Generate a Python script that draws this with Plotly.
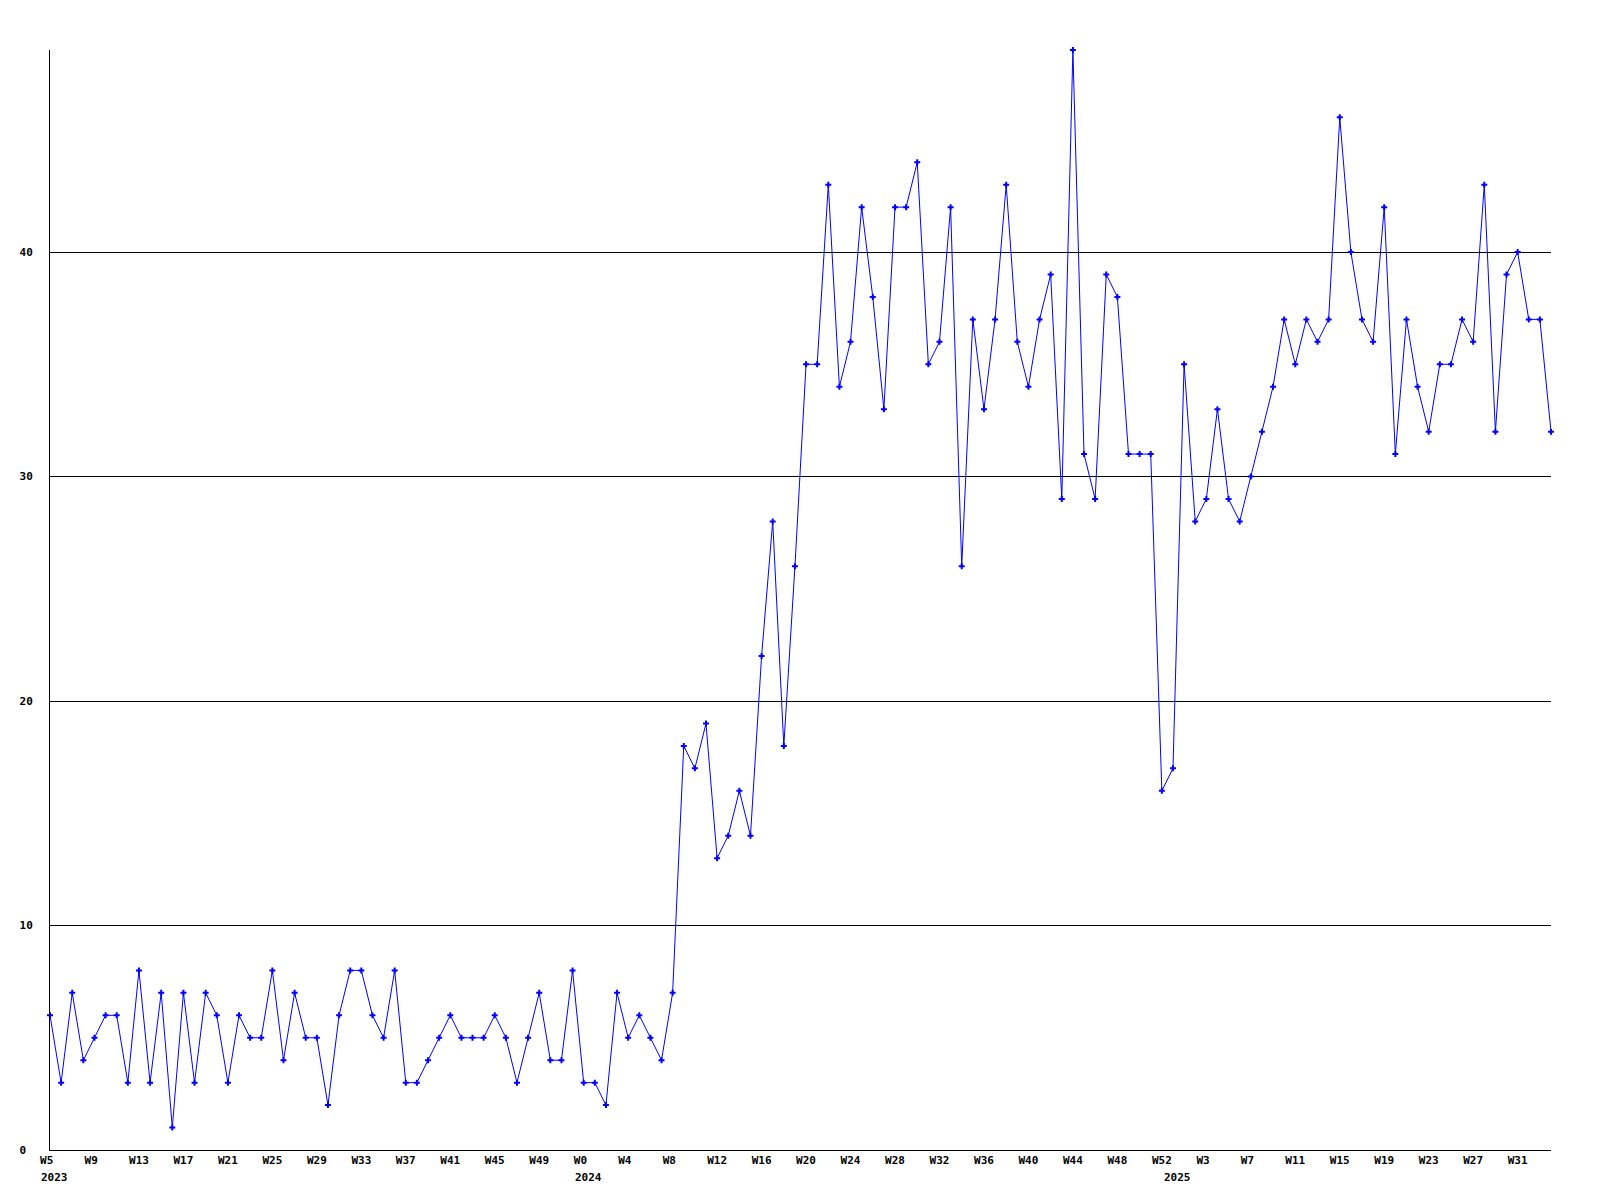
import plotly.graph_objects as go

# ---- data -------------------------------------------------------------
weeks_2023 = list(range(5, 53))    # W5 .. W52
weeks_2024 = list(range(0, 53))    # W0 .. W52
weeks_2025 = list(range(0, 35))    # W0 .. W34

values_2023 = [6, 3, 7, 4, 5, 6, 6, 3, 8, 3, 7, 1, 7, 3, 7, 6, 3, 6, 5, 5,
               8, 4, 7, 5, 5, 2, 6, 8, 8, 6, 5, 8, 3, 3, 4, 5, 6, 5, 5, 5,
               6, 5, 3, 5, 7, 4, 4, 8]
values_2024 = [3, 3, 2, 7, 5, 6, 5, 4, 7, 18, 17, 19, 13, 14, 16, 14, 22, 28, 18, 26,
               35, 35, 43, 34, 36, 42, 38, 33, 42, 42, 44, 35, 36, 42, 26, 37, 33, 37, 43, 36,
               34, 37, 39, 29, 49, 31, 29, 39, 38, 31, 31, 31, 16]
values_2025 = [17, 35, 28, 29, 33, 29, 28, 30, 32, 34, 37, 35, 37, 36, 37, 46, 40, 37, 36, 42,
               31, 37, 34, 32, 35, 35, 37, 36, 43, 32, 39, 40, 37, 37, 32]

years = ["2023", "2024", "2025"]
y_tick_values = [0, 10, 20, 30, 40]
y_tick_labels = ["0", "10", "20", "30", "40"]

# ---- build series ----------------------------------------------------
week_labels = ([f"W{w}" for w in weeks_2023] + [f"W{w}" for w in weeks_2024]
               + [f"W{w}" for w in weeks_2025])
values = values_2023 + values_2024 + values_2025
idx = list(range(len(values)))
year_start_idx = [0, len(weeks_2023), len(weeks_2023) + len(weeks_2024)]

tick_idx = idx[::4]
tick_text = [week_labels[i].ljust(3, "\u00a0") for i in tick_idx]

FONT = "DejaVu Sans Mono"

fig = go.Figure()
fig.add_trace(go.Scatter(
    x=idx, y=values, mode="lines+markers",
    line=dict(color="#0000ff", width=1),
    marker=dict(symbol="cross", size=5, color="#0000ff", line=dict(width=0)),
    cliponaxis=False,
    hoverinfo="skip", showlegend=False,
))

for yr, i in zip(years, year_start_idx):
    fig.add_annotation(x=i, y=0, xref="x", yref="paper", text=yr,
                       showarrow=False, xanchor="left", yanchor="middle",
                       xshift=-11, yshift=-27,
                       font=dict(family=FONT, size=11, color="black", weight="bold"))

fig.update_layout(
    width=1600, height=1200,
    margin=dict(l=50, r=49, t=50, b=50),
    paper_bgcolor="white", plot_bgcolor="white",
    xaxis=dict(range=[0, len(values) - 1], tickmode="array", tickvals=tick_idx,
               ticktext=tick_text, showgrid=False, zeroline=False,
               showline=True, linecolor="black", linewidth=1, ticks="",
               tickangle=0,
               tickfont=dict(family=FONT, size=11, color="black", weight="bold")),
    yaxis=dict(range=[0, 49], tickmode="array", tickvals=y_tick_values,
               ticktext=[t.ljust(2, "\u00a0") for t in y_tick_labels],
               showgrid=True, gridcolor="black", gridwidth=1, zeroline=False,
               showline=True, linecolor="black", linewidth=1, ticks="",
               ticklabelstandoff=14,
               tickfont=dict(family=FONT, size=11, color="black", weight="bold")),
)

fig.write_html("out.html", config={"displayModeBar": False},
               post_script="document.body.style.margin='0';document.body.style.overflow='hidden';")
